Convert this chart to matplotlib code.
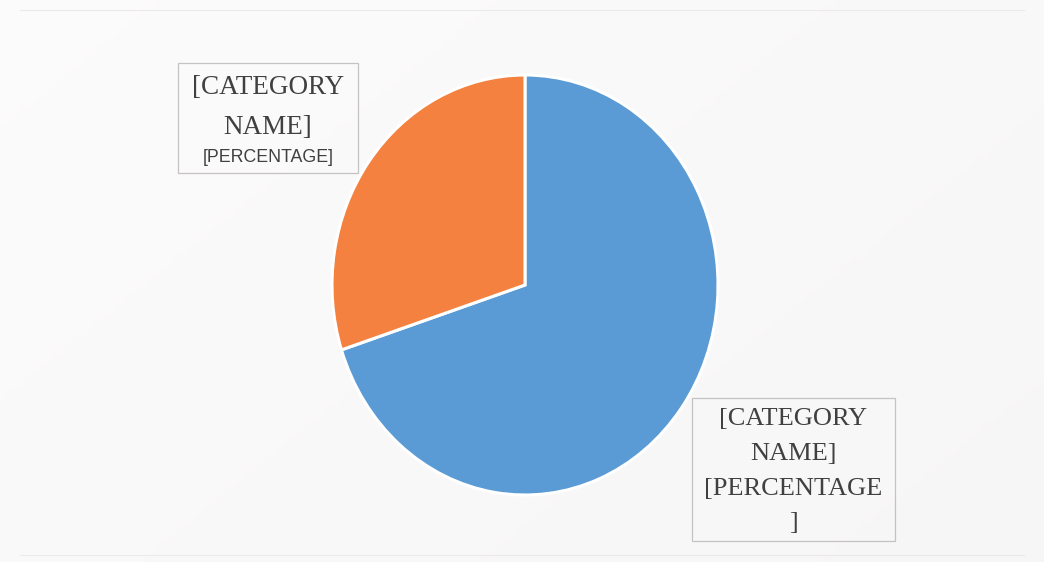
import matplotlib.pyplot as plt
import numpy as np
from matplotlib.patches import Rectangle

# Two-slice share chart with placeholder data labels
categories = ['[CATEGORY NAME]', '[CATEGORY NAME]']
shares = [70, 30]
slice_colors = ['#5B9BD5', '#F4813F']

# Label text for each slice (blue first, then orange)
label_lines = [
    ['[CATEGORY', 'NAME]', '[PERCENTAGE', ']'],
    ['[CATEGORY', 'NAME]', '[PERCENTAGE]'],
]

W, H = 1044, 562
fig = plt.figure(figsize=(W / 100, H / 100), dpi=100)

# soft paper background, a touch darker towards the lower right
bg = fig.add_axes([0, 0, 1, 1], zorder=-10)
gx, gy = np.meshgrid(np.linspace(0, 1, 200), np.linspace(0, 1, 100))
shade = 0.99 - 0.02 * (0.6 * gx + 0.4 * gy)
img = np.dstack([shade, shade - 0.004, shade - 0.004])
bg.imshow(np.clip(img, 0, 1), extent=[0, 1, 0, 1], aspect='auto', origin='upper')
bg.set_xlim(0, 1)
bg.set_ylim(0, 1)
bg.axis('off')

# faint chart-area edges, top and bottom only
for yy in (1 - 10 / H, 7 / H):
    fig.lines.append(plt.Line2D([20 / W, 1 - 20 / W], [yy, yy], transform=fig.transFigure,
                                color='#ebe9e9', linewidth=0.8, zorder=-5))

# pie axes, slightly taller than wide
ax = fig.add_axes([332 / W, (H - 495) / H, 386 / W, 420 / H])
wedges, _ = ax.pie(shares, colors=slice_colors, startangle=90, counterclock=False,
                   wedgeprops={'edgecolor': 'white', 'linewidth': 2.2})
ax.set_aspect('auto')
ax.set_xlim(-1, 1)
ax.set_ylim(-1, 1)
ax.axis('off')

text_color = '#404040'
box_color = '#c4c2c2'


def label_box(x0, y0, x1, y1, lines, centers, fonts):
    fig.patches.append(Rectangle((x0 / W, 1 - y1 / H), (x1 - x0) / W, (y1 - y0) / H,
                                 transform=fig.transFigure, facecolor='none',
                                 edgecolor=box_color, linewidth=0.9))
    cx = (x0 + x1) / 2 / W
    for line, cy, (family, size) in zip(lines, centers, fonts):
        fig.text(cx, 1 - cy / H, line, ha='center', va='center', color=text_color,
                 family=family, fontsize=size)


serif = ('Liberation Serif', 19.5)
sans = ('Liberation Sans', 12.8)

# orange slice label, upper left
label_box(178, 63, 358, 173, label_lines[1], [88, 127, 158], [serif, serif, sans])

# blue slice label, lower right
label_box(692, 398, 895, 541, label_lines[0], [419, 454, 489, 523],
          [('Liberation Serif', 19)] * 4)

fig.savefig('out.png', dpi=100)
